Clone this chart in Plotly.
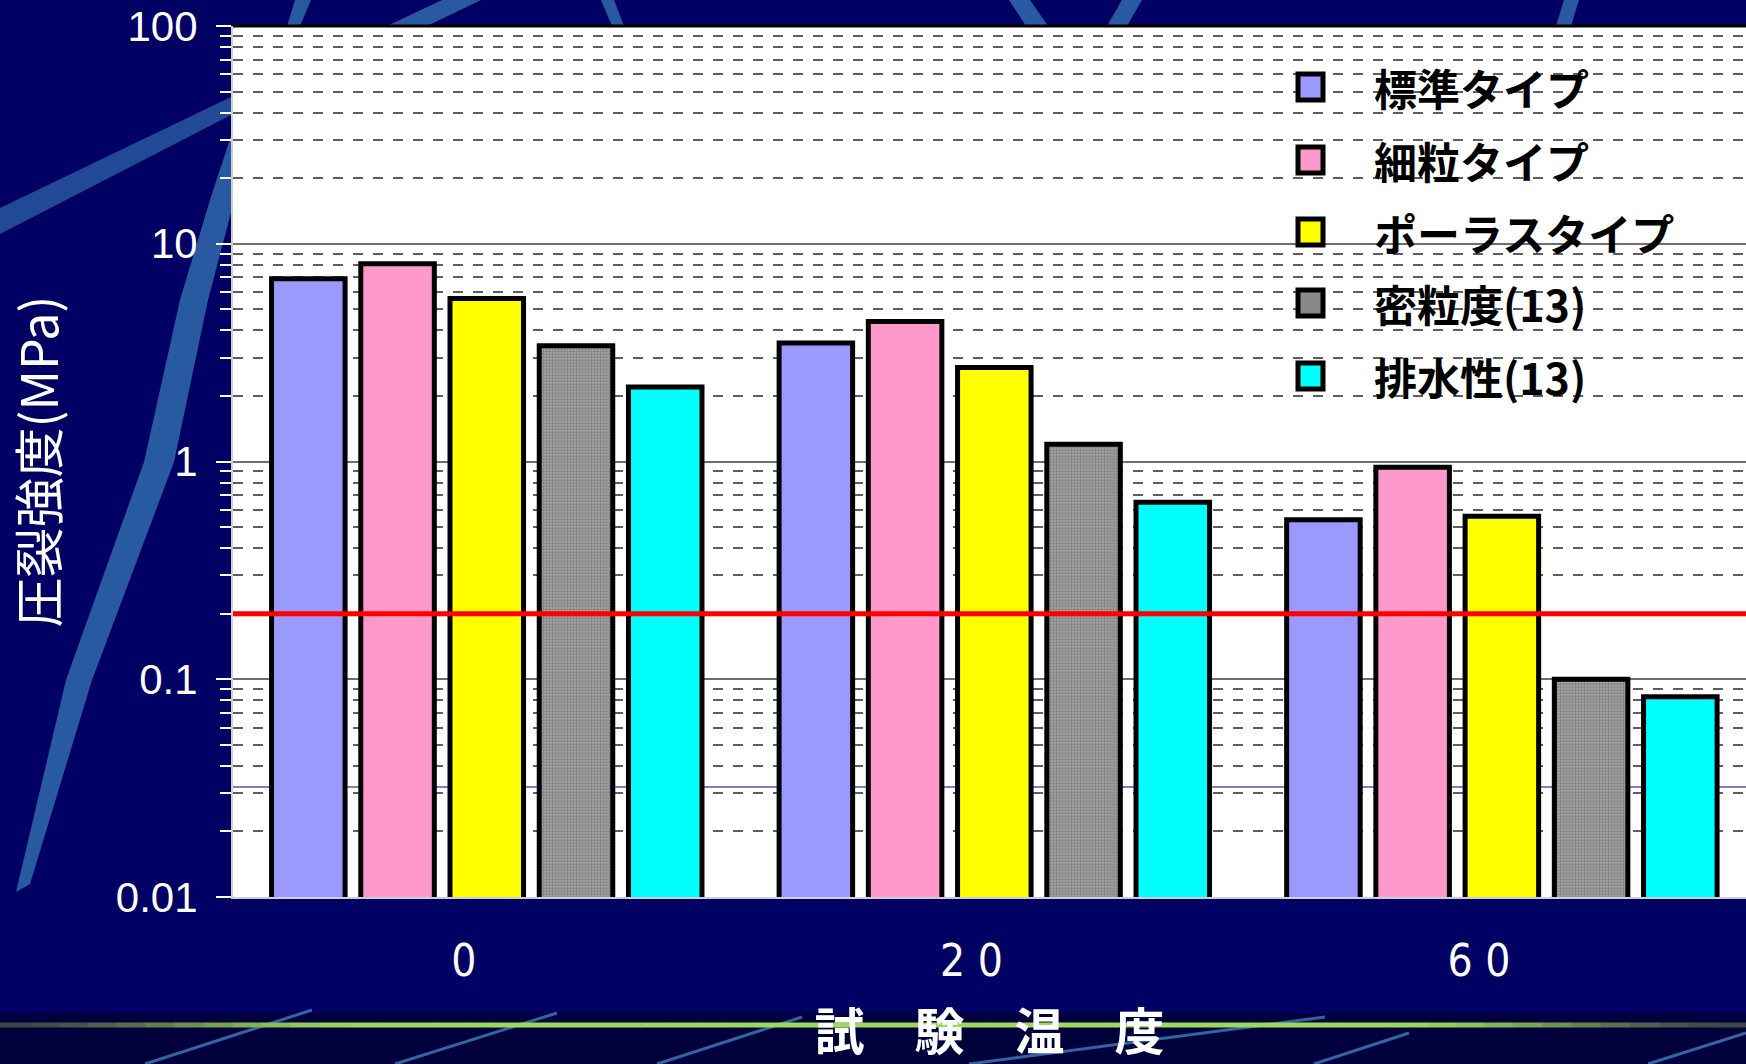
import plotly.graph_objects as go

# ---------------- data ----------------
temps = [0, 20, 60]
temp_labels = ["0", "2 0", "6 0"]
series_names = ["標準タイプ", "細粒タイプ", "ポーラスタイプ", "密粒度(13)", "排水性(13)"]
std_type = [6.9, 3.5, 0.54]
fine_type = [8.1, 4.4, 0.94]
porous_type = [5.6, 2.7, 0.56]
dense13 = [3.4, 1.2, 0.10]
drain13 = [2.2, 0.65, 0.083]
threshold = 0.2
aux_level = 0.032
y_ticks = [0.01, 0.1, 1, 10, 100]
y_tick_labels = ["0.01", "0.1", "1", "10", "100"]

series_values = [std_type, fine_type, porous_type, dense13, drain13]
colors = ["#9999FF", "#FF99CC", "#FFFF00", "#8C8C8C", "#00FFFF"]

# ---------------- geometry ----------------
W, H = 1746, 1064
L, R, T, B = 233, 0, 26, 167
PW, PH = W - L - R, H - T - B


def px(x, y):
    return (x - L) / PW, (H - B - y) / PH


def poly_path(pts):
    p = [px(x, y) for x, y in pts]
    return "M " + " L ".join(f"{a:.5f},{b:.5f}" for a, b in p) + " Z"


positions = list(range(len(temps)))
label_shift = -0.045

fig = go.Figure()
for name, vals, col in zip(series_names, series_values, colors):
    marker = dict(color=col, line=dict(color="black", width=5))
    if name.startswith("密粒度"):
        marker["pattern"] = dict(shape=".", fgcolor="#5a5a5a", bgcolor="#a4a4a4",
                                 size=3, solidity=0.45)
    fig.add_trace(go.Bar(x=positions, y=vals, name=name, marker=marker,
                         showlegend=False))

shapes = []
# ---- background decoration ----
shapes.append(dict(type="rect", xref="paper", yref="paper", layer="below",
                   x0=px(0, 0)[0], x1=px(W, 0)[0], y0=px(0, H)[1], y1=px(0, 1013)[1],
                   fillcolor="#00003c", line=dict(width=0)))
streak_polys = [
    [(233, 130), (233, 205), (208, 300), (174, 462), (92, 680), (30, 884),
     (16, 892), (66, 680), (144, 462), (180, 300), (210, 200)],
    [(0, 208), (233, 96), (233, 114), (0, 234)],
    [(295, 0), (311, 0), (300, 26), (287, 26)],
    [(442, 0), (481, 0), (427, 26), (387, 26)],
    [(601, 0), (614, 0), (624, 26), (612, 26)],
    [(1009, 0), (1030, 0), (1048, 26), (1026, 26)],
    [(1122, 0), (1142, 0), (1127, 26), (1107, 26)],
    [(1564, 0), (1579, 0), (1571, 26), (1556, 26)],
]
streak_cols = ["rgba(50,112,178,0.8)", "rgba(44,98,165,0.75)"] + ["rgba(48,105,170,0.85)"] * 6
for pts, c in zip(streak_polys, streak_cols):
    shapes.append(dict(type="path", xref="paper", yref="paper", layer="below",
                       path=poly_path(pts), fillcolor=c, line=dict(width=0)))
low_lines = [((145, 1064), (312, 1010)), ((395, 1064), (557, 1013)),
             ((657, 1064), (802, 1017)), ((969, 1064), (1325, 1017)),
             ((1314, 1064), (1409, 1033)), ((1648, 1064), (1746, 1033))]
for (a, b) in low_lines:
    p0, p1 = px(*a), px(*b)
    shapes.append(dict(type="line", xref="paper", yref="paper", layer="below",
                       x0=p0[0], y0=p0[1], x1=p1[0], y1=p1[1],
                       line=dict(color="rgba(60,125,190,0.8)", width=3)))
# green gradient line
nseg = 60
for i in range(nseg):
    xa, xb = W * i / nseg, W * (i + 1) / nseg
    xm = (xa + xb) / 2
    if xm < 380:
        t = xm / 380
    elif xm > 1380:
        t = max(0.0, (W - xm) / (W - 1380))
    else:
        t = 1.0
    t = t * t * (3 - 2 * t)
    r = int(60 + (155 - 60) * t)
    g = int(72 + (218 - 72) * t)
    bb = int(70 + (92 - 70) * t)
    p0, p1 = px(xa, 1025), px(xb + 0.5, 1025)
    shapes.append(dict(type="line", xref="paper", yref="paper", layer="below",
                       x0=p0[0], y0=p0[1], x1=p1[0], y1=p1[1],
                       line=dict(color=f"rgb({r},{g},{bb})", width=5)))

# ---- chart decorations ----
shapes.append(dict(type="line", xref="paper", yref="y", layer="between",
                   x0=0, x1=1, y0=aux_level, y1=aux_level,
                   line=dict(color="#000080", width=1.2)))
shapes.append(dict(type="line", xref="paper", yref="paper", layer="above",
                   x0=0, x1=1, y0=1, y1=1, line=dict(color="black", width=3)))
shapes.append(dict(type="line", xref="paper", yref="y", layer="above",
                   x0=0, x1=1, y0=threshold, y1=threshold,
                   line=dict(color="#FF0000", width=5)))

# ---- custom legend ----
lx0, ly0 = px(1257, 52)
lx1, ly1 = px(1707, 440)
shapes.append(dict(type="rect", xref="paper", yref="paper", layer="between",
                   x0=lx0, x1=lx1, y0=ly1, y1=ly0, fillcolor="white", line=dict(width=0)))
annotations = []
item_y = [87, 160, 232, 303, 376]
legend_fill = ["#9999FF", "#FF99CC", "#FFFF00", "#888888", "#00FFFF"]
for name, yy, c in zip(series_names, item_y, legend_fill):
    a0 = px(1298, yy - 13)
    a1 = px(1323, yy + 13)
    shapes.append(dict(type="rect", xref="paper", yref="paper", layer="above",
                       x0=a0[0], x1=a1[0], y0=a1[1], y1=a0[1], fillcolor=c,
                       line=dict(color="black", width=5)))
    tp = px(1372, yy)
    annotations.append(dict(xref="paper", yref="paper", x=tp[0], y=tp[1],
                            xanchor="left", yanchor="middle", showarrow=False,
                            text=name,
                            font=dict(family="Noto Sans CJK JP", size=43,
                                      color="black", weight="bold")))

minor_vals = [m * 10 ** e for e in range(-2, 2) for m in range(2, 10)]

fig.update_layout(
    width=W, height=H, autosize=False,
    margin=dict(l=L, r=R, t=T, b=B, pad=0),
    paper_bgcolor="#000064", plot_bgcolor="white",
    barmode="group", bargap=0.121, bargroupgap=0.176,
    showlegend=False,
    shapes=shapes, annotations=annotations,
    xaxis=dict(range=[-0.5, 2.481], tickmode="array",
               tickvals=[p + label_shift for p in positions], ticktext=temp_labels,
               ticks="", showgrid=False, zeroline=False, automargin=False,
               showline=True, linecolor="#cfcfcf", linewidth=2,
               tickfont=dict(family="Liberation Sans Narrow, DejaVu Sans Condensed, Liberation Sans",
                             size=44, color="white"),
               ticklabelstandoff=24,
               title=dict(text="試　験　温　度", standoff=34,
                          font=dict(family="Noto Sans CJK JP", size=50, color="white",
                                    weight="bold"))),
    yaxis=dict(type="log", range=[-2, 2], tickmode="array", tickvals=y_ticks,
               ticktext=y_tick_labels, automargin=False,
               ticks="outside", ticklen=15, tickwidth=2, tickcolor="white",
               tickfont=dict(family="Liberation Sans, Arial", size=42, color="white"),
               ticklabelstandoff=10,
               showgrid=True, gridcolor="#6e6e6e", gridwidth=1.5,
               showline=True, linecolor="#cfcfcf", linewidth=2, zeroline=False,
               minor=dict(tickmode="array", tickvals=minor_vals, ticks="outside",
                          ticklen=11, tickwidth=2, tickcolor="white",
                          showgrid=True, gridcolor="#5e5e5e", gridwidth=1.5,
                          griddash="10px,10px"),
               title=dict(text="圧裂強度(MPa)", standoff=44,
                          font=dict(family="Noto Sans CJK JP", size=50, color="white"))),
)

fig.write_html("out.html")
